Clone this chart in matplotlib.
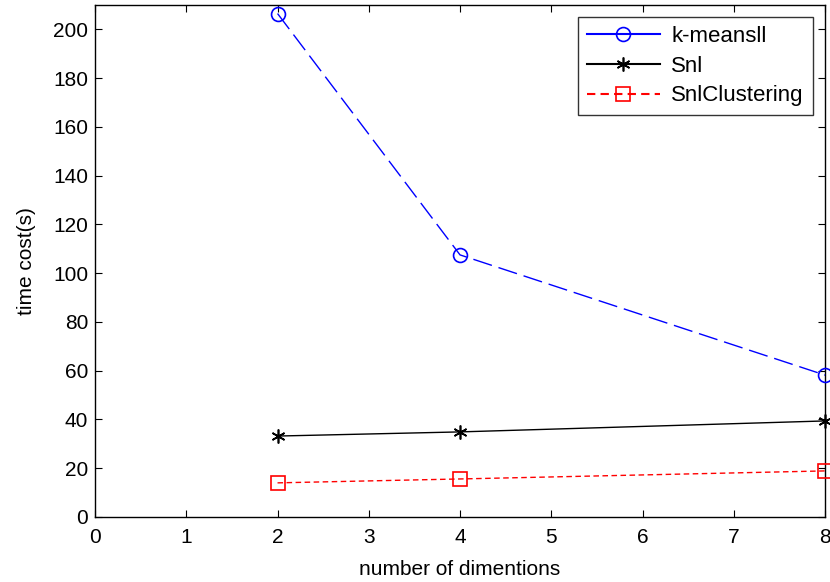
import matplotlib
matplotlib.use("Agg")
import matplotlib.pyplot as plt
from matplotlib.lines import Line2D

plt.rcParams['font.family'] = ['Liberation Sans', 'DejaVu Sans']

x = [2, 4, 8]
kmeans = [206.5, 107.5, 58.2]
snl = [33.2, 34.9, 39.4]
snlclus = [14.0, 15.6, 18.9]
labels = ['k-meansll', 'Snl', 'SnlClustering']

fig = plt.figure(figsize=(8.3, 5.82), dpi=100)
ax = fig.add_axes([0.1145, 0.1117, 0.8795, 0.8797])

ax.plot(x, kmeans, color='blue', linestyle=(0, (14, 5)), linewidth=1.0,
        marker='o', markersize=10, markerfacecolor='none', markeredgecolor='blue',
        markeredgewidth=1.2, clip_on=False, zorder=3)
ax.plot(x, snl, color='black', linestyle='-', linewidth=1.0,
        marker=(6, 2, 0), markersize=10, markeredgecolor='black', markeredgewidth=1.2,
        clip_on=False, zorder=3)
ax.plot(x, snlclus, color='red', linestyle=(0, (4, 2.5)), linewidth=1.0,
        marker='s', markersize=10, markerfacecolor='none', markeredgecolor='red',
        markeredgewidth=1.2, clip_on=False, zorder=3)

ax.set_xlim(0, 8)
ax.set_ylim(0, 210)
ax.set_xticks(range(0, 9))
ax.set_yticks(range(0, 201, 20))
ax.tick_params(direction='in', top=True, right=True, length=5)
ax.tick_params(axis='y', labelsize=15, pad=5)
ax.tick_params(axis='x', labelsize=15, pad=8)
for s in ax.spines.values():
    s.set_linewidth(1.0)

ax.set_xlabel('number of dimentions', fontsize=15, labelpad=9)
ax.set_ylabel('time cost(s)', fontsize=15, labelpad=12)

handles = [
    Line2D([], [], color='blue', linestyle='-', marker='o', markersize=10,
           markerfacecolor='none', markeredgecolor='blue', markeredgewidth=1.2),
    Line2D([], [], color='black', linestyle='-', marker=(6, 2, 0), markersize=10,
           markeredgecolor='black', markeredgewidth=1.2),
    Line2D([], [], color='red', linestyle=(0, (4, 2.5)), marker='s', markersize=10,
           markerfacecolor='none', markeredgecolor='red', markeredgewidth=1.2),
]
leg = ax.legend(handles, labels, loc='upper right',
                bbox_to_anchor=(0.983, 0.977), fontsize=16, frameon=True, fancybox=False,
                edgecolor='black', handlelength=3.3, handletextpad=0.5,
                borderpad=0.4, labelspacing=0.4, borderaxespad=0.0)
leg.get_frame().set_linewidth(1.0)

fig.savefig('out.png', dpi=100)
